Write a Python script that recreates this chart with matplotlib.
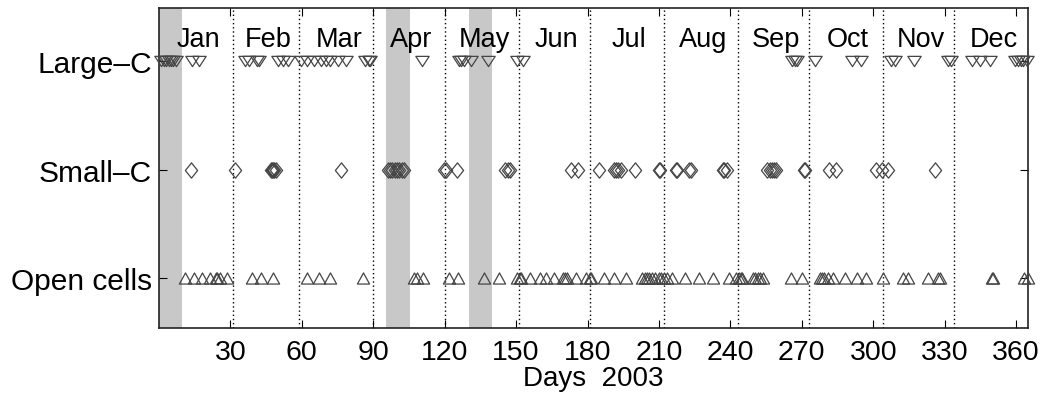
import numpy as np
import matplotlib
matplotlib.use("Agg")
import matplotlib.pyplot as plt
from matplotlib.path import Path
from matplotlib.transforms import blended_transform_factory

# Calendar of 2003
month_names = ["Jan", "Feb", "Mar", "Apr", "May", "Jun",
               "Jul", "Aug", "Sep", "Oct", "Nov", "Dec"]
month_days = [31, 28, 31, 30, 31, 30, 31, 31, 30, 31, 30, 31]

# Rows of the event chart (bottom to top)
row_labels = ["Open cells", "Small\u2013C", "Large\u2013C"]

# Shaded periods (start day, end day)
shaded_periods = [(0, 9.7), (95.5, 105.3), (130, 139.7)]

x_ticks = [30, 60, 90, 120, 150, 180, 210, 240, 270, 300, 330, 360]

# Days of year with each cloud regime
large_c_days = [1, 2, 3, 4, 5, 6, 7, 14, 17,
                36, 38, 41, 42, 50, 52, 54, 59.5,
                62, 65, 68, 70, 72, 75, 78.5, 86.5, 88, 88.7,
                110.5, 126, 127, 128, 131, 138, 150.5, 153,
                266, 267, 268, 275.5, 291, 295, 307.5, 309, 317,
                331.5, 332.5, 341.5, 345, 349, 359.5, 361, 362, 363, 364.5]

small_c_days = [13.5, 32, 47, 47.5, 48, 48.5, 49, 76.5,
                96, 97, 98, 99, 100, 101, 102, 103,
                119.5, 120.5, 125, 145.5, 146.5, 147.5,
                173, 176, 185, 191, 192, 193, 194, 200,
                210, 210.5, 217, 217.5, 222.5, 223.5,
                237, 237.5, 238.5, 255.5, 256.5, 257.5, 258.5, 259,
                271, 271.5, 281.5, 284.5, 301, 303.5, 306, 326]

open_cell_days = [11, 14.5, 18, 21.5, 24, 24.5, 25.5, 28.5,
                  39, 43, 48, 62, 67, 72, 85.5,
                  107, 108.5, 111, 122, 125.5, 136.5, 143,
                  150.5, 151.5, 152, 156, 160, 162.5, 166,
                  169.5, 170.5, 171.5, 175, 179.5, 181, 181.5, 187,
                  191, 196, 203, 204, 205, 206, 207, 208.5, 210,
                  211, 212, 213.5, 215.5, 221, 227, 232.5, 239.5,
                  242.5, 243.5, 244.5, 245, 249.5, 250.5, 251.5, 252.5, 253.5,
                  265.5, 270, 277.5, 278.5, 279.5, 281, 283, 288, 293, 297,
                  304, 312.5, 314.5, 323, 327, 328, 350, 350.5, 363.5, 365]

# MATLAB-like open marker shapes
tri_down = Path([(-0.65, 0.5), (0.65, 0.5), (0, -0.5), (-0.65, 0.5)],
                [Path.MOVETO, Path.LINETO, Path.LINETO, Path.CLOSEPOLY])
tri_up = Path([(-0.55, -0.5), (0.55, -0.5), (0, 0.5), (-0.55, -0.5)],
              [Path.MOVETO, Path.LINETO, Path.LINETO, Path.CLOSEPOLY])
diamond = Path([(0, -0.5), (0.4, 0), (0, 0.5), (-0.4, 0), (0, -0.5)],
               [Path.MOVETO, Path.LINETO, Path.LINETO, Path.LINETO, Path.CLOSEPOLY])

plt.rcParams["font.family"] = ["Liberation Sans", "DejaVu Sans"]

fig = plt.figure(figsize=(10.47, 4.02), dpi=100)
ax = fig.add_axes([159 / 1047, 1 - 329 / 402, 869 / 1047, 320 / 402])

# Shaded periods
for start, end in shaded_periods:
    ax.axvspan(start, end, color="#c8c8c8", lw=0, zorder=0)

# Month boundaries
boundaries = np.cumsum(month_days)
for b in boundaries[:-1]:
    ax.axvline(b, color="black", ls=(0, (1, 2.0)), lw=1.0, zorder=1)

# Month names
edges = np.concatenate([[0], boundaries])
centers = (edges[:-1] + edges[1:]) / 2 + 1
trans = blended_transform_factory(ax.transData, ax.transAxes)
for name, c in zip(month_names, centers):
    ax.text(c, 0.881, name, transform=trans, ha="center", va="baseline",
            fontsize=19.5)

mk = dict(ls="none", mfc="none", mec="#454545", mew=0.9, zorder=3, clip_on=False)
ax.plot(open_cell_days, np.full(len(open_cell_days), 1.0), marker=tri_up, ms=8.8, **mk)
ax.plot(small_c_days, np.full(len(small_c_days), 2.0), marker=diamond, ms=11, **mk)
ax.plot(large_c_days, np.full(len(large_c_days), 3.0), marker=tri_down, ms=9.6, **mk)

ax.set_xlim(0, 365)
ax.set_ylim(0.54, 3.49)
ax.set_xticks(x_ticks)
ax.set_xticklabels([str(t) for t in x_ticks], fontsize=20.5)
ax.set_yticks([1, 2, 3])
ax.set_yticklabels(row_labels, fontsize=21.5)
ax.tick_params(direction="in", top=True, right=True, length=6, width=0.8)
ax.tick_params(axis="x", pad=8)
ax.tick_params(axis="y", pad=5)
ax.set_xlabel("Days  2003", fontsize=20, labelpad=0)

for s in ax.spines.values():
    s.set_linewidth(1.2)
    s.set_color("#222222")

fig.savefig("out.png", dpi=100)
